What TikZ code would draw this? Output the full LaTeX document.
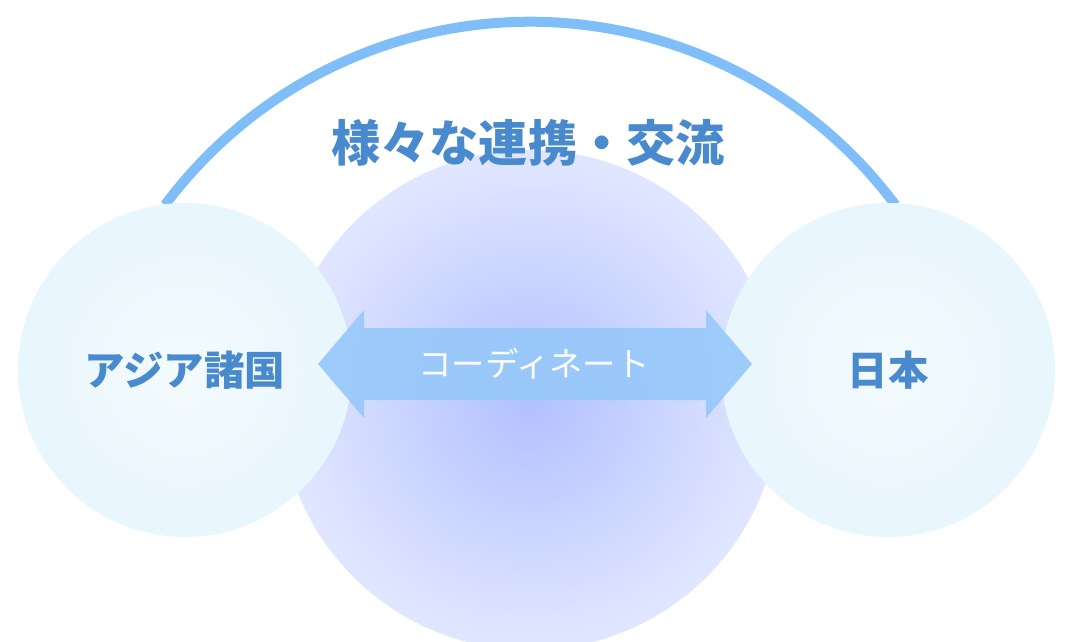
\documentclass[tikz,border=0pt]{standalone}
\usepackage{fontspec}
\newfontfamily\jpfont{Noto Sans CJK JP}
\usetikzlibrary{positioning}
\definecolor{arcblue}{RGB}{128,190,250}
\definecolor{arrowblue}{RGB}{150,200,250}
\definecolor{txtblue}{RGB}{72,138,205}
\definecolor{ballblue}{RGB}{232,246,253}
\definecolor{glowblue}{RGB}{178,192,255}
\pgfdeclareradialshading{glow}{\pgfpoint{0}{0}}{color(0bp)=(glowblue); color(22bp)=(glowblue!45!white); color(44bp)=(white); color(50bp)=(white)}
\newlength\pgfxx
\setlength\pgfxx{0.02cm}
\tikzset{
	ball/.style={circle, minimum size=334\pgfxx, inner color=white!50!ballblue, outer color=ballblue},
	place/.style={font=\jpfont\bfseries\fontsize{23}{28}\selectfont, text=txtblue},
}
\begin{document}
\begin{tikzpicture}[x=0.02cm, y=-0.02cm]
	\useasboundingbox (0, 0) rectangle (1078, 642);
	% glow behind the arrow
	\shade[shading=glow] (530, 400) circle (250);
	% arc between the two sides
	\draw[arcblue, line width=10\pgfxx] (165, 205) arc[start angle=216.7, end angle=323.3, radius=455.5];
	\node[place, font=\jpfont\bfseries\fontsize{28}{32}\selectfont] (title) at (528, 143) {様々な連携・交流};

	\node[ball] (asia) at (185, 370) {};
	\node[ball] (japan) at (888, 370) {};
	\node[place] at (asia) {アジア諸国};
	\node[place] at (japan) {日本};

	\fill[arrowblue, opacity=0.9] (318, 364) -- (364, 310) -- (364, 328) -- (706, 328) -- (706, 310) -- (752, 364)
		-- (706, 418) -- (706, 400) -- (364, 400) -- (364, 418) -- cycle;
	\node[text=white, font=\jpfont\fontsize{19}{22}\selectfont] (coord) at (534, 364) {コーディネート};
\end{tikzpicture}
\end{document}
